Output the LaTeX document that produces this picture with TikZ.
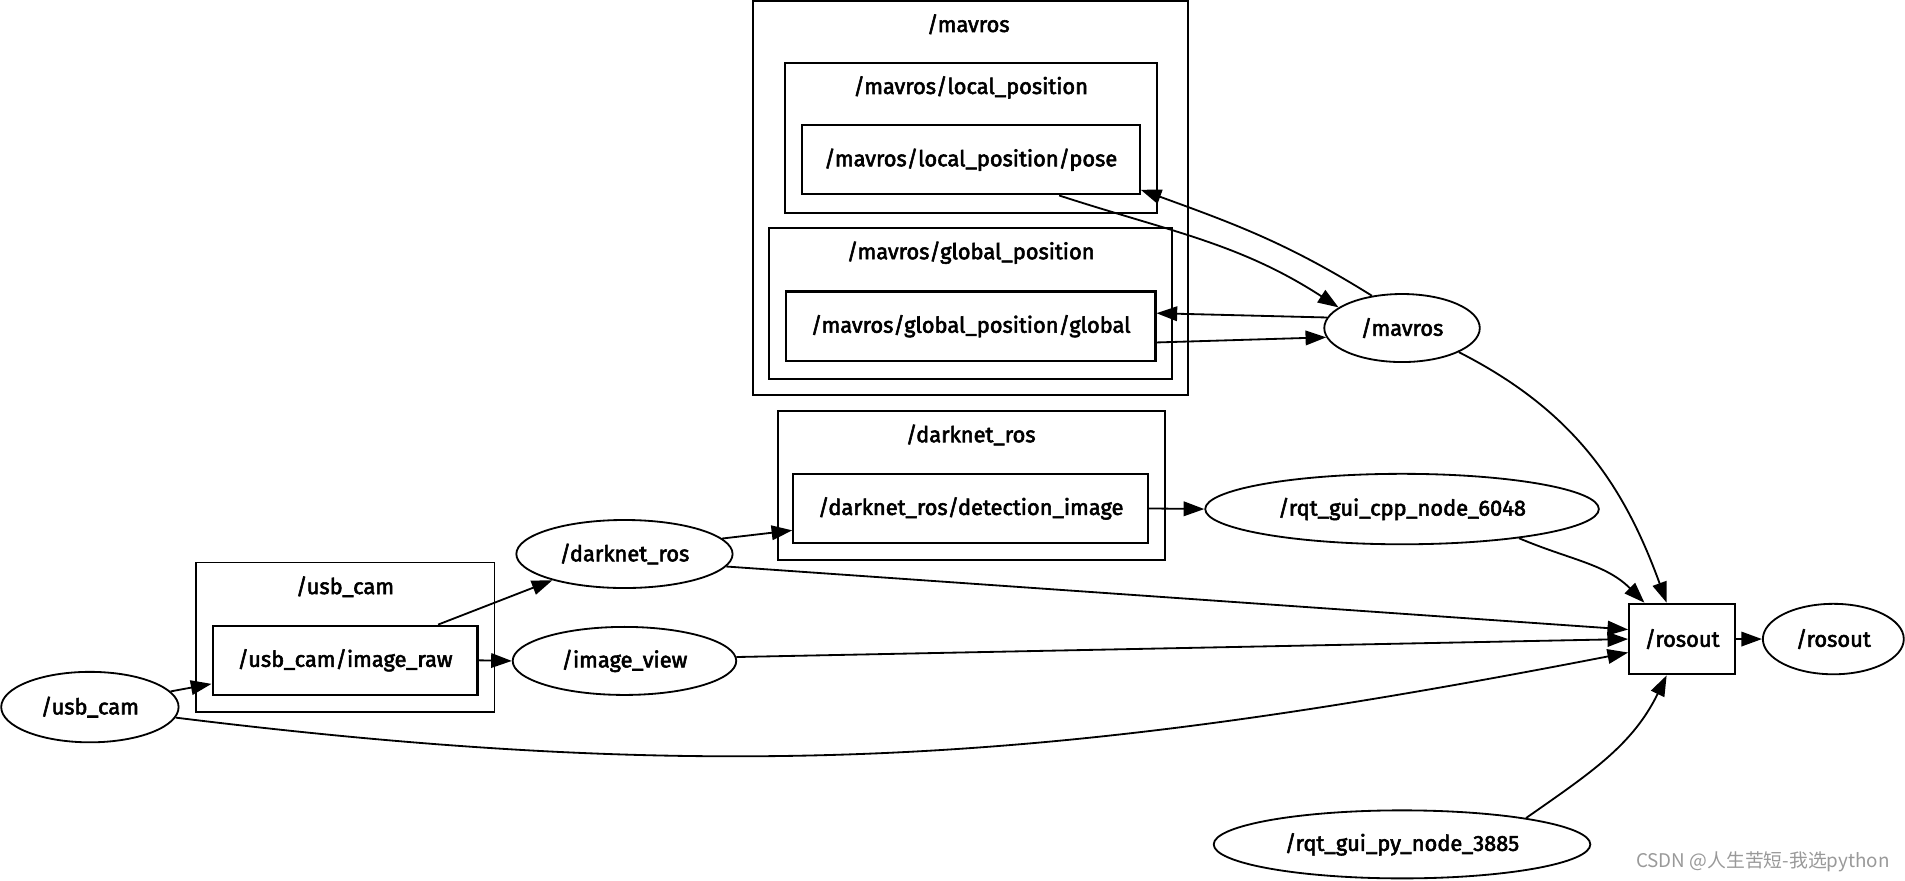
\documentclass[tikz,border=0pt]{standalone}
\usepackage{fontspec}
\setmainfont{Fira Sans}[FakeBold=2.6]
\newfontfamily\cjkfont{Noto Sans CJK SC}
\usetikzlibrary{arrows.meta,shapes.geometric}
\tikzset{arrow/.style={draw,-{Triangle[length=17pt,width=12pt]},line width=1.5pt,#1}}
\tikzset{arrow/.default={black}}
\tikzset{font={\fontsize{18pt}{21}\selectfont}}
\tikzset{topic/.style={draw,line width=1.8pt,rectangle,inner sep=0pt}}
\tikzset{cluster/.style={draw,line width=1.6pt,rectangle,inner sep=0pt}}
\tikzset{rosnode/.style={draw,line width=1.5pt,ellipse,inner sep=0pt}}

\begin{document}
\begin{tikzpicture}[x=1pt,y=-1pt]
        \useasboundingbox (0,0) rectangle (1568,725);
        % clusters
        \foreach \n\x\y\w\h in {cmav/799/163/358/324, cloc/799/113.5/306/123, cglob/799/250/332/124, cdark/799.5/399.5/319/123, cusb/284/524.5/246/123}{
            \node[cluster,minimum width=\w pt,minimum height=\h pt] (\n) at (\x,\y) {};
        }
        \node (tmav) at (797,20) {/mavros};
        \node (tloc) at (799,72) {/mavros/local\_position};
        \node (tglob) at (799,208) {/mavros/global\_position};
        \node (tdark) at (799,358) {/darknet\_ros};
        \node (tusb) at (284,483) {/usb\_cam};
        % topics
        \node[topic,minimum width=278pt,minimum height=57pt] (pose) at (799,131.5) {/mavros/local\_position/pose};
        \node[topic,minimum width=304pt,minimum height=57pt] (glob) at (799,268.5) {/mavros/global\_position/global};
        \node[topic,minimum width=292pt,minimum height=57pt] (det) at (799,418.5) {/darknet\_ros/detection\_image};
        \node[topic,minimum width=218pt,minimum height=57pt] (raw) at (284,543.5) {/usb\_cam/image\_raw};
        \node[topic,minimum width=87pt,minimum height=58pt] (ros) at (1384.5,526) {/rosout};
        % ros nodes
        \node[rosnode,minimum width=128pt,minimum height=56pt] (mav) at (1154,270) {/mavros};
        \node[rosnode,minimum width=178pt,minimum height=56pt] (dark) at (514,456) {/darknet\_ros};
        \node[rosnode,minimum width=184pt,minimum height=56pt] (view) at (514,544) {/image\_view};
        \node[rosnode,minimum width=146pt,minimum height=58pt] (usb) at (74,582) {/usb\_cam};
        \node[rosnode,minimum width=324pt,minimum height=58pt] (rqtc) at (1154,419) {/rqt\_gui\_cpp\_node\_6048};
        \node[rosnode,minimum width=310pt,minimum height=56pt] (rqtp) at (1154,695) {/rqt\_gui\_py\_node\_3885};
        \node[rosnode,minimum width=116pt,minimum height=58pt] (rosn) at (1509,526) {/rosout};
        % edges
        \path[arrow] (pose.-22) to[out=-18,in=147] (mav.162);
        \path[arrow] (mav.133) to[out=148,in=-20] (pose.-10);
        \path[arrow] (mav.172) -- (glob.4);
        \path[arrow] (glob.-5) -- (mav.187);
        \path[arrow] (mav.-23) to[out=-27,in=110] (ros.113);
        \path[arrow] (dark.9) -- (det.187);
        \path[arrow] (det.east) -- (rqtc.west);
        \path[arrow] (rqtc.-14) to[out=-23,in=135] (ros.136);
        \path[arrow] (dark.-7) -- (ros.170);
        \path[arrow] (raw.21) -- (dark.200);
        \path[arrow] (raw.east) -- (view.west);
        \path[arrow] (usb.11) -- (raw.190);
        \path[arrow] (view.2) -- (ros.west);
        \path[arrow] (usb.-7) .. controls (609,648) and (882,626) .. (ros.194);
        \path[arrow] (rqtp.12) to[out=35,in=-116] (ros.247);
        \path[arrow] (ros.east) -- (rosn.west);
        \node[text=black!40,font={\cjkfont\fontsize{15.5pt}{18}\selectfont}] (mark) at (1451,709) {CSDN @人生苦短-我选python};
    \end{tikzpicture}
\end{document}
